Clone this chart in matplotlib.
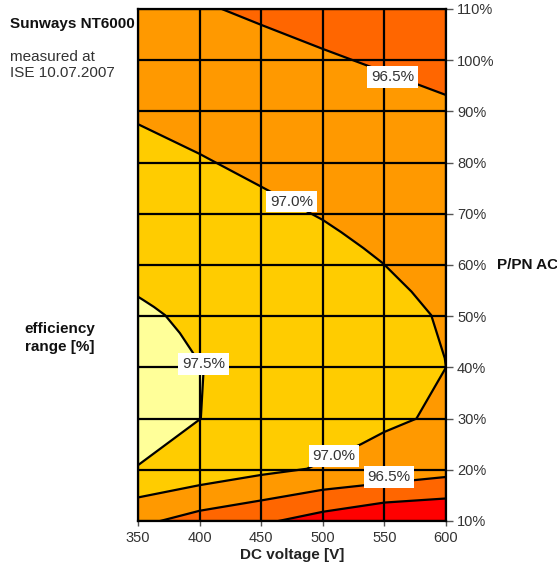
import matplotlib
matplotlib.use("Agg")
import matplotlib.pyplot as plt

plt.rcParams["font.family"] = ["Liberation Sans", "DejaVu Sans"]

# Axes ticks
voltage_ticks = [350, 400, 450, 500, 550, 600]
power_ticks = [10, 20, 30, 40, 50, 60, 70, 80, 90, 100, 110]

# Iso-efficiency lines: DC voltage [V] vs. P/PN AC [%]
iso965_high_v = [418, 450, 500, 530, 600]
iso965_high_p = [110, 106.9, 102.2, 99.5, 93.2]

iso970_upper_v = [350, 400, 414, 450, 500, 515, 533, 549, 572, 588, 599, 600]
iso970_upper_p = [87.5, 81.7, 79.9, 75.3, 68.8, 66.4, 63.3, 60.3, 54.8, 50.2, 41.8, 40.0]

iso970_lower_v = [600, 576, 550, 531, 487, 450, 400, 350]
iso970_lower_p = [40.0, 30.0, 27.4, 25.0, 20.2, 19.0, 17.0, 14.6]

iso975_v = [350, 354, 363, 372, 384, 395, 401, 403, 401, 350]
iso975_p = [53.8, 53.2, 51.8, 50.2, 46.7, 42.7, 40.0, 38.5, 30.0, 20.9]

iso965_low_v = [368, 400, 452, 500, 550, 600]
iso965_low_p = [10.0, 12.0, 14.1, 16.1, 17.4, 18.6]

iso960_v = [464, 500, 550, 600]
iso960_p = [10.0, 11.8, 13.6, 14.4]

# Line labels
label_text = ["96.5%", "97.0%", "97.5%", "97.0%", "96.5%"]
label_v = [556.6, 474.8, 403.0, 509.1, 553.7]
label_p = [96.7, 72.4, 40.7, 22.7, 18.65]

# Band colours
c_9600_9650 = "#FF6600"
c_9650_9700 = "#FF9900"
c_9700_9750 = "#FFCC00"
c_above_975 = "#FFFF99"
c_below_960 = "#FF0000"

fig = plt.figure(figsize=(5.57, 5.65), dpi=100)
fig.patch.set_facecolor("white")
ax = fig.add_axes([138 / 557, 1 - 521 / 565, (446 - 138) / 557, (521 - 9) / 565])
ax.set_facecolor(c_9650_9700)

# Filled efficiency bands
ax.fill(iso965_high_v + [600], iso965_high_p + [110], color=c_9600_9650, lw=0, zorder=1)
ax.fill(iso970_upper_v + iso970_lower_v[1:], iso970_upper_p + iso970_lower_p[1:],
        color=c_9700_9750, lw=0, zorder=1)
ax.fill(iso975_v, iso975_p, color=c_above_975, lw=0, zorder=1)
ax.fill(iso965_low_v + [600], iso965_low_p + [10], color=c_9600_9650, lw=0, zorder=1)
ax.fill(iso960_v + [600], iso960_p + [10], color=c_below_960, lw=0, zorder=1)

# Iso-efficiency lines
line_kw = dict(color="black", lw=1.6, zorder=3, solid_joinstyle="round")
ax.plot(iso965_high_v, iso965_high_p, **line_kw)
ax.plot(iso970_upper_v + iso970_lower_v[1:], iso970_upper_p + iso970_lower_p[1:], **line_kw)
ax.plot(iso975_v, iso975_p, **line_kw)
ax.plot(iso965_low_v, iso965_low_p, **line_kw)
ax.plot(iso960_v, iso960_p, **line_kw)

for t, v, p in zip(label_text, label_v, label_p):
    ax.text(v, p, t, ha="center", va="center", fontsize=11, color="#333333", zorder=5,
            bbox=dict(boxstyle="square,pad=0.25", fc="white", ec="none"))

ax.set_xlim(350, 600)
ax.set_ylim(10, 110)
ax.set_xticks(voltage_ticks)
ax.set_yticks(power_ticks)
ax.set_yticklabels([f"{p}%" for p in power_ticks])
ax.yaxis.tick_right()
ax.set_axisbelow(False)
ax.grid(True, color="black", lw=1.6, zorder=2)
for s in ax.spines.values():
    s.set_linewidth(1.6)
    s.set_color("black")
    s.set_zorder(4)
ax.tick_params(axis="y", direction="out", length=5, width=1, color="#555555",
               labelcolor="#333333", labelsize=10.5, pad=3)
ax.tick_params(axis="x", direction="out", length=3.5, width=1, color="#555555",
               labelcolor="#333333", labelsize=10.5, pad=4)
ax.set_xlabel("DC voltage [V]", fontsize=11, fontweight="bold", color="#222222", labelpad=2)

# Side annotations
fig.text(10 / 557, 1 - 24 / 565, "Sunways NT6000", fontsize=11, fontweight="bold",
         color="#111111", ha="left", va="center")
fig.text(10 / 557, 1 - 57 / 565, "measured at", fontsize=11, color="#333333",
         ha="left", va="center")
fig.text(10 / 557, 1 - 73 / 565, "ISE 10.07.2007", fontsize=11, color="#333333",
         ha="left", va="center")
fig.text(60 / 557, 1 - 329 / 565, "efficiency", fontsize=11, fontweight="bold",
         color="#111111", ha="center", va="center")
fig.text(60 / 557, 1 - 347 / 565, "range [%]", fontsize=11, fontweight="bold",
         color="#111111", ha="center", va="center")
fig.text(497 / 557, 1 - 265 / 565, "P/PN AC", fontsize=11, fontweight="bold",
         color="#111111", ha="left", va="center")

fig.savefig("out.png", dpi=100)
